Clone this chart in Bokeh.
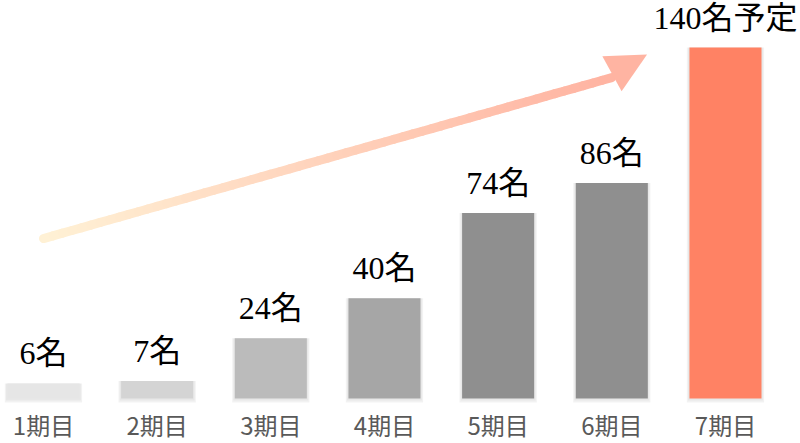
from bokeh.plotting import figure
from bokeh.models import Range1d, ColumnDataSource, Arrow, NormalHead
from bokeh.core.properties import value
from bokeh.embed import file_html
from bokeh.resources import INLINE
import numpy as np

categories = ["1期目", "2期目", "3期目", "4期目", "5期目", "6期目", "7期目"]
counts = [6, 7, 24, 40, 74, 86, 140]
value_labels = ["6名", "7名", "24名", "40名", "74名", "86名", "140名予定"]
bar_colors = ["#E6E6E6", "#D4D4D4", "#BBBBBB", "#A6A6A6", "#8F8F8F", "#8F8F8F", "#FF8264"]

W, H = 800, 443
p = figure(width=W, height=H, output_backend="svg", toolbar_location=None,
           x_range=Range1d(-0.378, 6.660), y_range=Range1d(-17.95, 158.75),
           min_border=0)
p.axis.visible = False
p.grid.visible = False
p.outline_line_color = None
p.background_fill_color = "white"
p.border_fill_color = "white"

xs = list(range(len(categories)))
src = ColumnDataSource(dict(x=xs, top=counts, color=bar_colors, lab=value_labels, cat=categories))

# soft shadow
p.vbar(x="x", top="top", bottom=-1.6, width=0.68, source=src, fill_color="#000000",
       fill_alpha=0.05, line_color=None)
p.vbar(x="x", top="top", bottom=-0.8, width=0.66, source=src, fill_color="#000000",
       fill_alpha=0.04, line_color=None)
p.vbar(x="x", top="top", bottom=0, width=0.634, source=src, fill_color="color", line_color=None)

p.text(x="x", y="top", text="lab", source=src, text_align="center", text_baseline="middle",
       y_offset=-30, text_font=value("'Liberation Serif', 'Noto Sans CJK JP'"),
       text_font_size="32px", text_color="#000000")
p.text(x="x", y=0, text="cat", source=src, text_align="center", text_baseline="middle",
       y_offset=26, text_font=value("Noto Sans CJK JP"),
       text_font_size="24px", text_color="#595959")

# gradient arrow (decoration)
x0, y0, x1, y1 = 0.0, 63.8, 5.0, 128.0
n = 60
c0 = np.array([0xFF, 0xF2, 0xD6]); c1 = np.array([0xFF, 0xB4, 0xA2])
segx, segy, segc = [], [], []
for i in range(n):
    t0, t1 = i / n, (i + 1) / n
    segx.append([x0 + (x1 - x0) * t0, x0 + (x1 - x0) * t1])
    segy.append([y0 + (y1 - y0) * t0, y0 + (y1 - y0) * t1])
    c = (c0 + (c1 - c0) * (t0 + t1) / 2).astype(int)
    segc.append("#%02X%02X%02X" % tuple(c))
p.multi_line(xs=segx, ys=segy, line_color=segc, line_width=9, line_cap="round")
p.add_layout(Arrow(end=NormalHead(size=40, fill_color="#FFB4A2", line_color=None),
                   x_start=4.9, y_start=127.0, x_end=5.31, y_end=137.2,
                   line_color=None, line_width=0))

open("out.html", "w").write(file_html(p, INLINE))
